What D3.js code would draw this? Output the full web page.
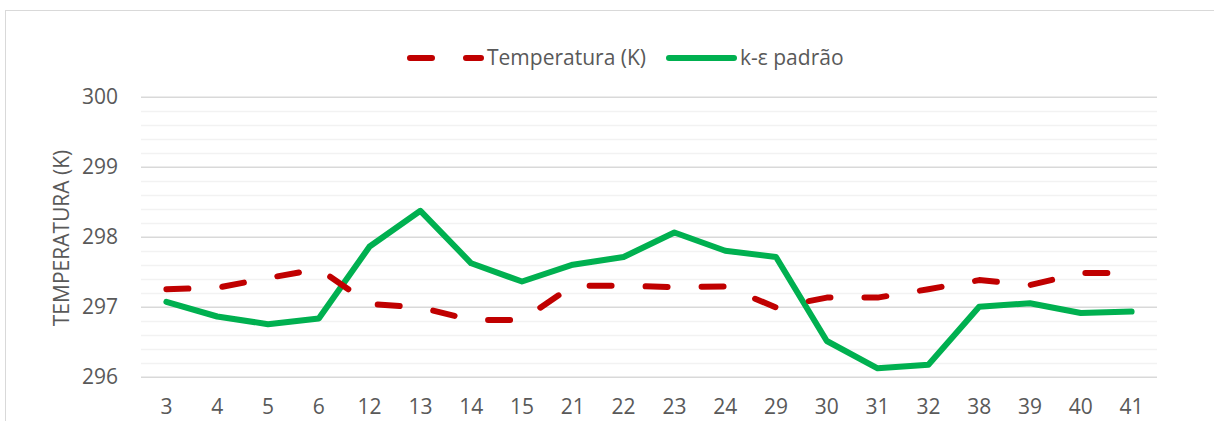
<!DOCTYPE html>
<html>
<head>
<meta charset="utf-8">
<script src="https://cdn.jsdelivr.net/npm/d3@7"></script>
<style>
  body { margin: 0; background: #fff; }
  svg { display: block; }
  svg text { font-family: "Open Sans", sans-serif; }
</style>
</head>
<body>
<svg width="1214" height="421"></svg>
<script>
const width = 1214;
const height = 421;

// categorias do eixo x
const categorias = [3, 4, 5, 6, 12, 13, 14, 15, 21, 22, 23, 24, 29, 30, 31, 32, 38, 39, 40, 41];
// Temperatura (K) - linha vermelha tracejada
const temperatura = [297.25, 297.27, 297.41, 297.54, 297.04, 296.99, 296.81, 296.81, 297.30, 297.30,
                     297.28, 297.29, 296.99, 297.13, 297.13, 297.25, 297.38, 297.31, 297.48, 297.48];
// k-ε padrão - linha verde
const kePadrao = [297.07, 296.86, 296.75, 296.83, 297.86, 298.37, 297.62, 297.36, 297.60, 297.71,
                  298.06, 297.80, 297.71, 296.51, 296.12, 296.17, 297.00, 297.05, 296.91, 296.93];
const yTicks = [296, 297, 298, 299, 300];

const margin = {left: 141, right: width - 1157, top: 96.7, bottom: height - 376.7};

const svg = d3.select("svg");

// borda do gráfico
svg.append("rect")
    .attr("x", 5.5).attr("y", 10.5)
    .attr("width", width).attr("height", height)
    .attr("fill", "none")
    .attr("stroke", "#d9d9d9");

const x = d3.scaleBand()
    .domain(categorias)
    .range([margin.left, width - margin.right]);

const y = d3.scaleLinear()
    .domain([296, 300])
    .range([height - margin.bottom, margin.top]);

// linhas de grade secundárias (0,2)
const minor = d3.range(296, 300.001, 0.2).filter(v => Math.abs(v - Math.round(v)) > 0.01);
svg.append("g")
    .selectAll("line")
    .data(minor)
    .join("line")
    .attr("x1", margin.left).attr("x2", width - margin.right)
    .attr("y1", d => Math.round(y(d)) + 0.5).attr("y2", d => Math.round(y(d)) + 0.5)
    .attr("stroke", "#f2f2f2").attr("stroke-width", 1.5);

// eixo y com grade principal
const yAxis = svg.append("g")
    .attr("transform", `translate(${margin.left},0)`)
    .call(d3.axisLeft(y).tickValues(yTicks).tickFormat(d3.format("d"))
        .tickSize(-(width - margin.left - margin.right)).tickPadding(23));
yAxis.attr("font-family", null);
yAxis.select(".domain").remove();
yAxis.selectAll(".tick line").attr("stroke", "#d9d9d9").attr("stroke-width", 1.5);
yAxis.selectAll(".tick text")
    .attr("fill", "#595959")
    .style("font-size", "21px");

// eixo x
const xAxis = svg.append("g")
    .attr("transform", `translate(0,${height - margin.bottom})`)
    .call(d3.axisBottom(x).tickSize(0).tickPadding(22));
xAxis.attr("font-family", null);
xAxis.select(".domain").remove();
xAxis.selectAll(".tick text")
    .attr("fill", "#595959")
    .style("font-size", "21px");

// título do eixo y
svg.append("text")
    .attr("transform", "translate(69,238) rotate(-90)")
    .attr("text-anchor", "middle")
    .attr("fill", "#595959")
    .style("font-size", "21px")
    .text("TEMPERATURA (K)");

const line = d3.line()
    .x((d, i) => x(categorias[i]) + x.bandwidth() / 2)
    .y(d => y(d));

svg.append("path")
    .datum(kePadrao)
    .attr("d", line)
    .attr("fill", "none")
    .attr("stroke", "#00b050")
    .attr("stroke-width", 6)
    .attr("stroke-linejoin", "round")
    .attr("stroke-linecap", "round");

svg.append("path")
    .datum(temperatura)
    .attr("d", line)
    .attr("fill", "none")
    .attr("stroke", "#c00000")
    .attr("stroke-width", 6)
    .attr("stroke-dasharray", "22,34")
    .attr("stroke-linejoin", "round")
    .attr("stroke-linecap", "round");

// legenda
const legenda = [
    {nome: "Temperatura (K)", cor: "#c00000", dash: "22,34", x0: 410, x1: 481, tx: 487},
    {nome: "k-ε padrão", cor: "#00b050", dash: null, x0: 669, x1: 734, tx: 740}
];
const lg = svg.append("g");
legenda.forEach(l => {
    lg.append("line")
        .attr("x1", l.x0).attr("x2", l.x1)
        .attr("y1", 58).attr("y2", 58)
        .attr("stroke", l.cor)
        .attr("stroke-width", 6)
        .attr("stroke-linecap", "round")
        .attr("stroke-dasharray", l.dash);
    lg.append("text")
        .attr("x", l.tx).attr("y", 58)
        .attr("dy", "0.35em")
        .attr("fill", "#595959")
        .style("font-size", "21px")
        .text(l.nome);
});
</script>
</body>
</html>
